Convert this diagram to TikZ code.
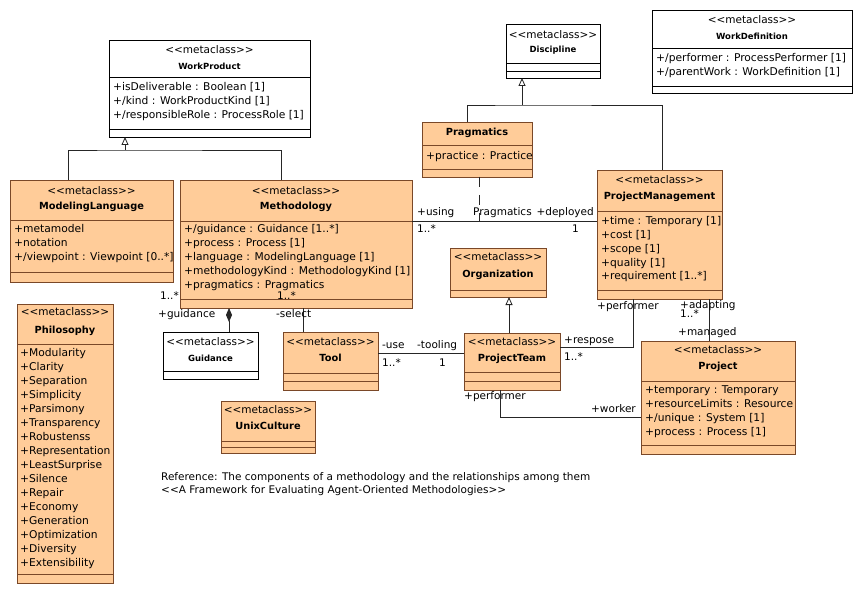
\documentclass[tikz,border=0pt]{standalone}
\usepackage{fontspec}
\setmainfont{DejaVu Sans}[Ligatures=TeXOff]
\usetikzlibrary{arrows.meta}
\definecolor{ofill}{RGB}{255,204,153}
\definecolor{oline}{RGB}{122,72,40}
\tikzset{
 wbox/.style={draw=black, fill=white, line width=0.9pt, inner sep=0pt, outer sep=0pt},
 obox/.style={draw=oline, fill=ofill, line width=0.9pt, inner sep=0pt, outer sep=0pt},
 wsep/.style={draw=black, line width=0.9pt},
 osep/.style={draw=oline, line width=0.9pt},
 stereo/.style={inner sep=0pt, font=\fontsize{10.5}{12}\selectfont, text height=7.8pt, text depth=2.2pt},
 wname/.style={inner sep=0pt, font=\bfseries\fontsize{8.5}{10}\selectfont, text height=6.5pt, text depth=1.8pt},
 oname/.style={inner sep=0pt, font=\bfseries\fontsize{9.8}{12}\selectfont, text height=7.3pt, text depth=2pt},
 attr/.style={anchor=west, inner sep=0pt, font=\fontsize{10.7}{13}\selectfont, text height=7.8pt, text depth=2.2pt},
 lbl/.style={attr, font=\fontsize{10.5}{13}\selectfont},
 lble/.style={lbl, anchor=east},
 conn/.style={draw=black!85, line width=0.8pt},
 gen/.style={conn, -{Triangle[open, length=8pt, width=7pt]}},
 comp/.style={conn, -{Diamond[length=14pt, width=6pt]}},
 assoccls/.style={conn, dash pattern=on 10pt off 8pt},
}
\newcommand\cls[6]{\node[#2, anchor=north west, minimum width={(#5-#3)*1pt}, minimum height={(#6-#4)*1pt}] (#1) at (#3,#4) {};}
\newcommand\hsep[3]{\draw[#2] (#1.west |- 0,#3) -- (#1.east |- 0,#3);}
\newcommand\hdr[5]{\node[stereo] (#1-st) at (#1.north |- 0,#2) {<<metaclass>>};
  \node[#5] (#1-nm) at (#1.north |- 0,#3) {#4};}
\newcommand\attrs[5]{\foreach \t [count=\i] in {#5} {\node[attr] (#1-a\i) at (#2,{#3+#4*(\i-1)}) {\t};}}
\begin{document}
\begin{tikzpicture}[x=1pt,y=-1pt]
\useasboundingbox[fill=white] (0,0) rectangle (862,596);
% WorkProduct
\cls{wp}{wbox}{109}{40}{310}{137}
\hsep{wp}{wsep}{77}\hsep{wp}{wsep}{129}
\hdr{wp}{51}{67}{WorkProduct}{wname}
\attrs{wp}{113}{88}{14}{{+isDeliverable : Boolean [1]},{+/kind : WorkProductKind [1]},{+/responsibleRole : ProcessRole [1]}}
% Discipline
\cls{dis}{wbox}{506}{24}{600}{78}
\hsep{dis}{wsep}{63}\hsep{dis}{wsep}{71}
\hdr{dis}{36}{50}{Discipline}{wname}
% WorkDefinition
\cls{wd}{wbox}{652}{10}{852}{93}
\hsep{wd}{wsep}{48}\hsep{wd}{wsep}{86}
\hdr{wd}{21}{37}{WorkDefinition}{wname}
\attrs{wd}{656}{59}{14}{{+/performer : ProcessPerformer [1]},{+/parentWork : WorkDefinition [1]}}
% ModelingLanguage
\cls{ml}{obox}{10}{180}{173}{282}
\hsep{ml}{osep}{220}\hsep{ml}{osep}{272}
\hdr{ml}{192}{207}{ModelingLanguage}{oname}
\attrs{ml}{14}{230}{14}{{+metamodel},{+notation},{+/viewpoint : Viewpoint [0..*]}}
% Methodology
\cls{met}{obox}{180}{180}{412}{308}
\hsep{met}{osep}{221}\hsep{met}{osep}{299}
\hdr{met}{192}{207}{Methodology}{oname}
\attrs{met}{184}{230}{14}{{+/guidance : Guidance [1..*]},{+process : Process [1]},{+language : ModelingLanguage [1]},{+methodologyKind : MethodologyKind [1]},{+pragmatics : Pragmatics}}
% Pragmatics
\cls{prag}{obox}{422}{122}{532}{177}
\hsep{prag}{osep}{145}\hsep{prag}{osep}{169}
\node[oname] (prag-nm) at (prag.north |- 0,133) {Pragmatics};
\attrs{prag}{426}{157}{14}{{+practice : Practice}}
% ProjectManagement
\cls{pm}{obox}{597}{170}{722}{299}
\hsep{pm}{osep}{211}\hsep{pm}{osep}{290}
\hdr{pm}{181}{197}{ProjectManagement}{oname}
\attrs{pm}{601}{222}{13.75}{{+time : Temporary [1]},{+cost [1]},{+scope [1]},{+quality [1]},{+requirement [1..*]}}
% Organization
\cls{org}{obox}{450}{248}{546}{297}
\hsep{org}{osep}{290}
\hdr{org}{258}{275}{Organization}{oname}
% Philosophy
\cls{phil}{obox}{17}{304}{113}{583}
\hsep{phil}{osep}{344}\hsep{phil}{osep}{574}
\hdr{phil}{313}{331}{Philosophy}{oname}
\attrs{phil}{20}{354}{14}{{+Modularity},{+Clarity},{+Separation},{+Simplicity},{+Parsimony},{+Transparency},{+Robustenss},{+Representation},{+LeastSurprise},{+Silence},{+Repair},{+Economy},{+Generation},{+Optimization},{+Diversity},{+Extensibility}}
% Guidance
\cls{guid}{wbox}{163}{332}{258}{379}
\hsep{guid}{wsep}{371}
\hdr{guid}{343}{359}{Guidance}{wname}
% Tool
\cls{tool}{obox}{283}{332}{378}{390}
\hsep{tool}{osep}{373}\hsep{tool}{osep}{381}
\hdr{tool}{343}{359}{Tool}{oname}
% ProjectTeam
\cls{team}{obox}{464}{333}{560}{390}
\hsep{team}{osep}{372}\hsep{team}{osep}{381}
\hdr{team}{343}{359}{ProjectTeam}{oname}
% UnixCulture
\cls{unix}{obox}{221}{401}{315}{453}
\hsep{unix}{osep}{441}\hsep{unix}{osep}{447}
\hdr{unix}{411}{427}{UnixCulture}{oname}
% Project
\cls{proj}{obox}{641}{341}{795}{454}
\hsep{proj}{osep}{381}\hsep{proj}{osep}{445}
\hdr{proj}{351}{367}{Project}{oname}
\attrs{proj}{645}{391}{13.75}{{+temporary : Temporary},{+resourceLimits : Resource},{+/unique : System [1]},{+process : Process [1]}}
% ---- connectors ----
\coordinate (gA) at (125,150);
\draw[conn] (ml.north -| 68,0) |- (gA) -| (met.north -| 281,0);
\draw[gen] (gA) -- (gA |- wp.south);
\coordinate (gB) at (522,105);
\draw[conn] (prag.north -| 467,0) |- (gB) -| (pm.north -| 662,0);
\draw[gen] (gB) -- (gB |- dis.south);
\coordinate (gC) at (509,333);
\draw[gen] (team.north -| gC) -- (org.south -| gC);
% Methodology - ProjectManagement
\coordinate (acP) at (479,221);
\draw[conn] (met.east |- acP) -- (pm.west |- acP);
\draw[assoccls] (prag.south -| acP) -- (acP);
\node[lbl] (l-using) at (417,213) {+using};
\node[lbl] (l-pragm) at (473,213) {Pragmatics};
\node[lble] (l-depl) at (594,213) {+deployed};
\node[lbl] (l-m1) at (417,230) {1..*};
\node[lbl] (l-m2) at (572,230) {1};
% Methodology - Guidance
\coordinate (cG) at (229,332);
\draw[comp] (guid.north -| cG) -- (met.south -| cG);
\node[lbl] (l-gm) at (160,297) {1..*};
\node[lbl] (l-gd) at (158,315) {+guidance};
% Methodology - Tool
\coordinate (cT) at (303,332);
\draw[conn] (met.south -| cT) -- (tool.north -| cT);
\node[lbl] (l-tm) at (277,297) {1..*};
\node[lbl] (l-sel) at (276,315) {-select};
% Tool - ProjectTeam
\coordinate (cU) at (420,353);
\draw[conn] (tool.east |- cU) -- (team.west |- cU);
\node[lbl] (l-use) at (382,346) {-use};
\node[lbl] (l-tooling) at (417,346) {-tooling};
\node[lbl] (l-um) at (382,364) {1..*};
\node[lbl] (l-tm1) at (439,364) {1};
% ProjectManagement - ProjectTeam
\coordinate (pt1) at (633,347);
\draw[conn] (pm.south -| pt1) |- (team.east |- pt1);
\node[lbl] (l-perf1) at (597,307) {+performer};
\node[lbl] (l-resp) at (564,341) {+respose};
\node[lbl] (l-rm) at (564,358) {1..*};
% ProjectManagement - Project
\coordinate (pt3) at (709,320);
\draw[conn] (pm.south -| pt3) -- (proj.north -| pt3);
\node[lbl] (l-adapt) at (680,306) {+adapting};
\node[lbl] (l-am) at (680,315) {1..*};
\node[lbl] (l-man) at (678,333) {+managed};
% ProjectTeam - Project
\coordinate (pt2) at (500,417);
\draw[conn] (team.south -| pt2) |- (proj.west |- pt2);
\node[lbl] (l-perf2) at (464,397) {+performer};
\node[lble] (l-work) at (636,410) {+worker};
% caption
\node[lbl] (cap1) at (161,478) {Reference: The components of a methodology and the relationships among them};
\node[lbl] (cap2) at (161,491) {<<A Framework for Evaluating Agent-Oriented Methodologies>>};
\end{tikzpicture}
\end{document}
